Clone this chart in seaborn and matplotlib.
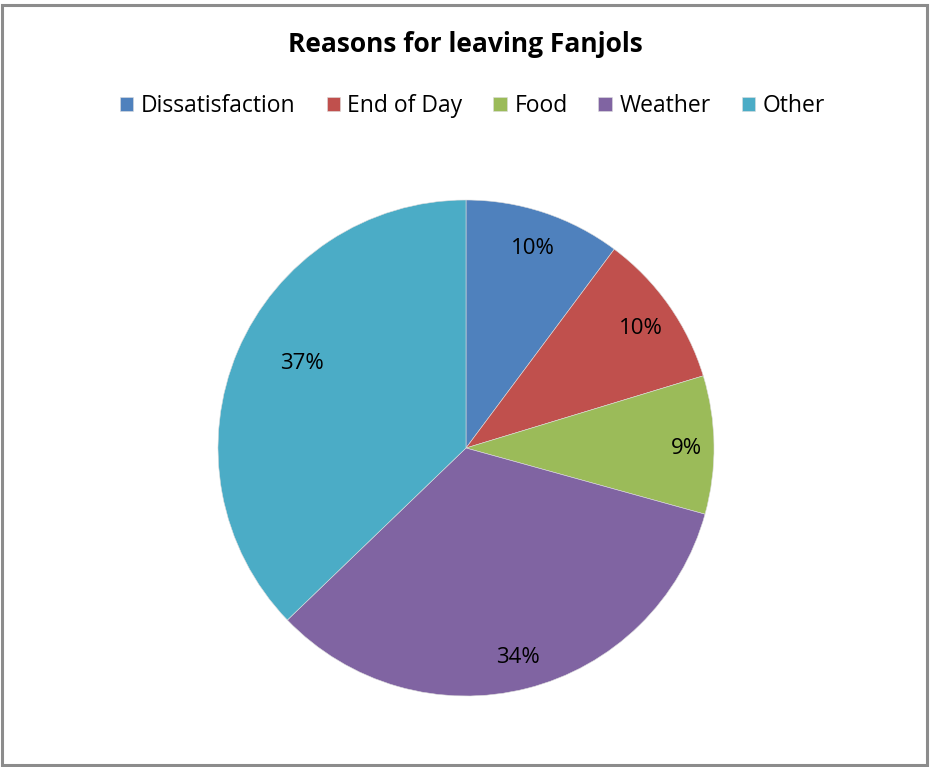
import numpy as np
import pandas as pd
import matplotlib.pyplot as plt
import seaborn as sns
from matplotlib.patches import Rectangle

reasons = ["Dissatisfaction", "End of Day", "Food", "Weather", "Other"]
shares = [10.2, 10.1, 9.0, 33.5, 37.2]
colors = ["#4F81BD", "#C0504D", "#9BBB59", "#8064A2", "#4BACC6"]

sns.set_theme(style="white")
plt.rcParams["font.family"] = ["Open Sans", "DejaVu Sans"]
plt.rcParams["text.color"] = "black"
pal = sns.color_palette(colors)

fig = plt.figure(figsize=(9.3, 7.67), dpi=100)
fig.patches.append(Rectangle((0.002, 0.003), 0.995, 0.99, transform=fig.transFigure,
                             fill=False, edgecolor="#8c8c8c", linewidth=2.2))

ax = fig.add_axes([218 / 930, 71 / 767, 496 / 930, 496 / 767])
wedges, texts, autotexts = ax.pie(shares, colors=pal, startangle=90, counterclock=False,
                                  autopct="%.0f%%", pctdistance=0.86,
                                  wedgeprops=dict(edgecolor="#dddddd", linewidth=0.4),
                                  textprops=dict(fontsize=16, color="black"))
# Excel-style label spots: small slices nearer the rim, big one further in
for i, r, shift in [(2, 0.89, 0), (4, 0.75, -5)]:
    ang = np.deg2rad((wedges[i].theta1 + wedges[i].theta2) / 2 + shift)
    autotexts[i].set_position((r * np.cos(ang), r * np.sin(ang)))
for t in autotexts:
    x, y = t.get_position()
    t.set_position((x, y - 0.012))
ax.set_xlim(-1, 1)
ax.set_ylim(-1, 1)
ax.set_aspect("equal")

fig.text(0.5, 1 - 45 / 767, "Reasons for leaving Fanjols", ha="center", va="center",
         fontsize=19, fontweight="bold")
leg = fig.legend(wedges, reasons, loc="center", bbox_to_anchor=(0.508, 1 - 106 / 767), ncol=5,
                 frameon=False, fontsize=16.5, handlelength=0.58, handleheight=0.58,
                 handletextpad=0.33, columnspacing=1.35)

plt.savefig("out.png", dpi=100)
